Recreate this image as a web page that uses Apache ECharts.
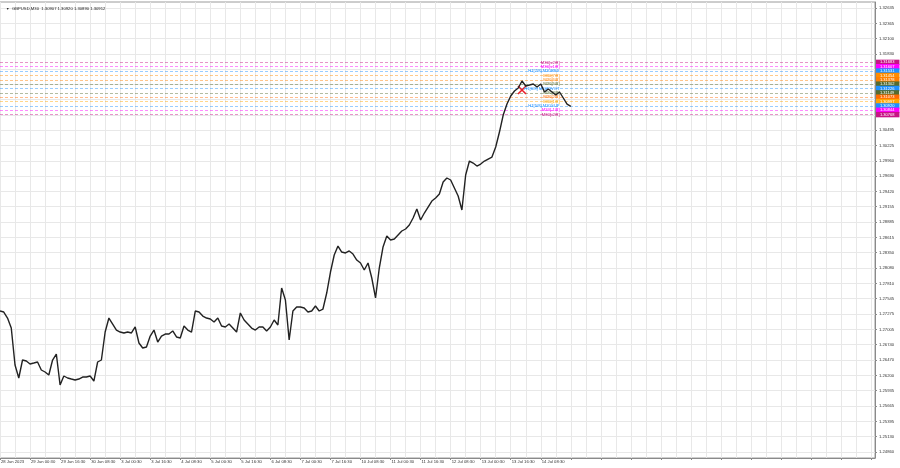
<!DOCTYPE html>
<html><head><meta charset="utf-8">
<script src="https://cdn.jsdelivr.net/npm/echarts@6/dist/echarts.min.js"></script>
<style>html,body{margin:0;padding:0;background:#fff}#c{width:900px;height:468px}</style>
</head><body><div id="c"></div>
<script>
// ---- data ----
const titleText = 'GBPUSD,M30  1.30907 1.30920 1.30890 1.30912';
const xTickLabels = ['28 Jun 2023','29 Jun 00:30','29 Jun 16:30','30 Jun 08:30','3 Jul 00:30','3 Jul 16:30',
  '4 Jul 08:30','5 Jul 00:30','5 Jul 16:30','6 Jul 08:30','7 Jul 00:30','7 Jul 16:30','10 Jul 08:30',
  '11 Jul 00:30','11 Jul 16:30','12 Jul 08:30','13 Jul 00:30','13 Jul 16:30','14 Jul 08:30'];
const slotCount = 234;          // visible 2-hour slots
const slotsPerLabel = 8;        // 16 hours between time labels
// 2-hour closes
const closes = [
  1.27329,1.27311,1.27206,1.27031,1.26383,1.26156,1.26471,1.26453,1.26401,1.26418,
  1.26436,1.26296,1.26261,1.26208,1.26471,1.26576,1.26033,1.26191,1.26156,1.26138,
  1.26121,1.26138,1.26173,1.26173,1.26191,1.26103,1.26436,1.26471,1.26961,1.27206,
  1.27101,1.26996,1.26961,1.26944,1.26961,1.26944,1.27049,1.26769,1.26681,1.26699,
  1.26891,1.26996,1.26786,1.26891,1.26926,1.26926,1.26979,1.26874,1.26856,1.27066,
  1.26996,1.26961,1.27329,1.27311,1.27241,1.27206,1.27189,1.27136,1.27206,1.27066,
  1.27049,1.27101,1.27031,1.26961,1.27294,1.27171,1.27101,1.27031,1.26996,1.27049,
  1.27049,1.26979,1.27049,1.27171,1.27084,1.27732,1.27522,1.26821,1.27329,1.27399,
  1.27399,1.27381,1.27311,1.27329,1.27417,1.27329,1.27364,1.27644,1.28012,1.28310,
  1.28467,1.28362,1.28345,1.28380,1.28327,1.28222,1.28169,1.28047,1.28169,1.27907,
  1.27557,1.28082,1.28450,1.28642,1.28572,1.28590,1.28660,1.28730,1.28765,1.28835,
  1.28957,1.29115,1.28922,1.29045,1.29150,1.29255,1.29308,1.29378,1.29588,1.29658,
  1.29623,1.29483,1.29343,1.29097,1.29710,1.29955,1.29920,1.29868,1.29903,1.29955,
  1.29990,1.30025,1.30201,1.30463,1.30761,1.30953,1.31094,1.31181,1.31234,1.31356,
  1.31269,1.31286,1.31304,1.31251,1.31304,1.31164,1.31216,1.31164,1.31111,1.31164,
  1.31059,1.30953,1.30912
];
const yTickLabels = [1.24860,1.25130,1.25395,1.25665,1.25935,1.26200,1.26470,1.26740,1.27005,1.27275,
  1.27545,1.27810,1.28080,1.28350,1.28615,1.28885,1.29155,1.29420,1.29690,1.29960,1.30225,1.30495,
  1.30765,1.31030,1.31300,1.31565,1.31830,1.32100,1.32365,1.32635];
const yMin = 1.24755, yMax = 1.32740;
const levelValues = [1.31683,1.31607,1.31531,1.31454,1.31378,1.31302,1.31226,1.31149,1.31073,1.30997,1.30920,1.30844,1.30768];
const levelNames = ['M30[+2/8]','M30[+1/8]','H1[7/8] M30RES','M30[7/8]','M30[6/8]','M30[5/8]','H1[6/8] M30PIVOT',
  'M30[3/8]','M30[2/8]','M30[1/8]','H1[5/8] M30SUP','M30[-1/8]','M30[-2/8]'];
const levelColors = ['#C71585','#FF00FF','#1E90FF','#FF8C00','#FF7F00','#556B2F','#1E90FF','#556B2F','#FF6A00','#FFA500','#1E90FF','#FF00FF','#C71585'];
const crossMark = [139, 1.31199];
const levelLabelSlot = 148.5;

// ---- chart ----
function fade(hex, a) {
  const n = parseInt(hex.slice(1), 16);
  return 'rgba(' + (n >> 16 & 255) + ',' + (n >> 8 & 255) + ',' + (n & 255) + ',' + a + ')';
}
const slots = Array.from({length: slotCount}, (_, i) => String(i));
const FONT = 'Liberation Sans';
const chart = echarts.init(document.getElementById('c'), null, {renderer: 'canvas'});
chart.setOption({
  animation: false,
  backgroundColor: '#ffffff',
  title: [
    {text: '\u25BC', left: 1, top: 2, textStyle: {fontSize: 3.5, color: '#222', fontWeight: 'normal', fontFamily: FONT}},
    {text: titleText, left: 7, top: 2, textStyle: {fontSize: 4.2, color: '#222', fontWeight: 'normal', fontFamily: FONT}}
  ],
  grid: {left: 0, right: 25, top: 2, bottom: 10, show: true, borderColor: '#9a9a9a', borderWidth: 1, containLabel: false, outerBoundsMode: 'none'},
  xAxis: {
    type: 'category', data: slots, boundaryGap: false,
    axisLine: {show: true, lineStyle: {color: '#8a8a8a', width: 1}},
    axisTick: {show: true, interval: slotsPerLabel - 1, length: 2, lineStyle: {color: '#8a8a8a'}},
    axisLabel: {
      interval: slotsPerLabel - 1, margin: 2, align: 'left', fontSize: 4.2, color: '#333', fontFamily: FONT,
      padding: [0, 0, 0, 1],
      formatter: (v, idx) => (idx % slotsPerLabel === 0 && xTickLabels[idx / slotsPerLabel]) ? xTickLabels[idx / slotsPerLabel] : ''
    },
    splitLine: {show: true, interval: slotsPerLabel / 2 - 1, lineStyle: {color: '#e8e8e8', width: 1}}
  },
  yAxis: {
    type: 'value', position: 'right', min: yMin, max: yMax, scale: true,
    axisLine: {show: true, lineStyle: {color: '#8a8a8a', width: 1}},
    axisTick: {show: true, length: 2, customValues: yTickLabels, lineStyle: {color: '#8a8a8a'}},
    axisLabel: {customValues: yTickLabels, margin: 4, fontSize: 4.2, color: '#333', fontFamily: FONT,
      formatter: v => v.toFixed(5)},
    splitLine: {show: true, lineStyle: {color: '#e8e8e8', width: 1}}
  },
  series: [{
    type: 'line', data: closes, symbol: 'none', smooth: false, z: 5,
    lineStyle: {color: '#222222', width: 1.4},
    markLine: {
      silent: true, symbol: ['none', 'none'], animation: false, precision: 5,
      data: levelValues.map((v, i) => ({
        yAxis: v,
        lineStyle: {color: fade(levelColors[i], 0.45), type: [3, 2], width: 1},
        label: {show: true, position: 'end', distance: 1, formatter: () => v.toFixed(5),
          color: '#fff', fontSize: 4, fontFamily: FONT, backgroundColor: levelColors[i],
          padding: [0.6, 5, 0.4, 4], lineHeight: 4.4}
      }))
    },
    markPoint: {
      silent: true, animation: false,
      data: levelValues.map((v, i) => ({
        coord: [levelLabelSlot, v], symbol: 'circle', symbolSize: 0,
        label: {show: true, position: 'left', distance: 0, formatter: levelNames[i],
          color: levelColors[i], fontSize: 4.2, fontFamily: FONT}
      })).concat([{
        coord: crossMark, symbol: 'path://M0,0L10,10M10,0L0,10', symbolSize: 8,
        itemStyle: {color: 'rgba(0,0,0,0)', borderColor: '#e8202a', borderWidth: 1.6},
        label: {show: false}
      }])
    }
  }]
});
</script></body></html>
